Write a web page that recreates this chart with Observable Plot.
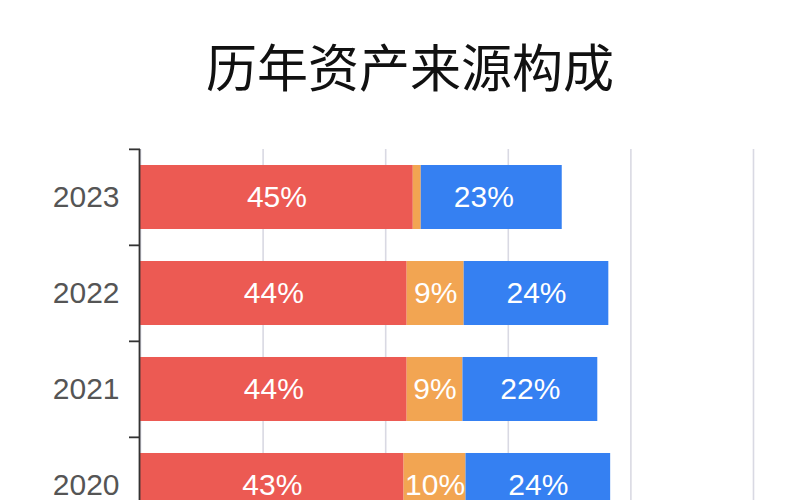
<!DOCTYPE html>
<html>
<head>
<meta charset="utf-8">
<script src="https://cdn.jsdelivr.net/npm/d3@7"></script>
<script src="https://cdn.jsdelivr.net/npm/@observablehq/plot@0.6"></script>
<style>
  html, body { margin: 0; padding: 0; background: #fff; overflow: hidden; width: 800px; height: 500px; }
  #title { height: 130px; line-height: 130px; text-align: center; padding-left: 20px; box-sizing: border-box; font-family: "Noto Sans CJK SC", sans-serif; font-size: 51px; color: #111; font-weight: 400; }
</style>
</head>
<body>
<div id="title">历年资产来源构成</div>
<div id="chart"></div>
<script>
const years = ["2023", "2022", "2021", "2020"];
const types = ["A", "B", "C"];
const red = [44.5, 43.5, 43.5, 43.0];
const orange = [1.3, 9.3, 9.1, 10.1];
const blue = [23.0, 23.6, 22.0, 23.6];
const colors = ["#EC5A53", "#F2A552", "#3580F2"];
const xTicks = [0, 20, 40, 60, 80, 100];

const series = [red, orange, blue];
const data = [];
years.forEach((y, i) => types.forEach((t, j) => data.push({year: y, type: t, value: series[j][i]})));

const marginTop = 19, bandCount = years.length, step = 96.3;
const height = marginTop + bandCount * step + 30;

const chart = Plot.plot({
  width: 800,
  height,
  marginLeft: 140,
  marginRight: 47,
  marginTop,
  marginBottom: 30,
  style: {fontFamily: "'Liberation Sans', Arial, sans-serif", background: "#fff"},
  x: {domain: [0, 100], axis: null},
  y: {domain: years, paddingInner: 0.33, paddingOuter: 0.165, axis: null},
  color: {domain: types, range: colors},
  marks: [
    Plot.gridX(xTicks, {stroke: "#d9d9e3", strokeOpacity: 1, strokeWidth: 1.6}),
    Plot.barX(data, Plot.stackX({x: "value", y: "year", fill: "type", order: null})),
    Plot.text(data.filter(d => d.value > 3), Plot.stackX({
      x: "value", y: "year", z: "type", order: null,
      text: d => Math.round(d.value) + "%",
      fill: "#fff", fontSize: 30
    })),
    Plot.axisY({tickSize: 0, tickPadding: 21, fontSize: 30, color: "#555", fill: "#555", label: null}),
    Plot.ruleX([0], {stroke: "#333", strokeWidth: 1.8, dx: -1}),
    Plot.ruleY(years, {y: d => d, x1: -1.8, x2: 0, dy: -step / 2, stroke: "#333", strokeWidth: 1.8})
  ]
});
document.getElementById("chart").appendChild(chart);
</script>
</body>
</html>
